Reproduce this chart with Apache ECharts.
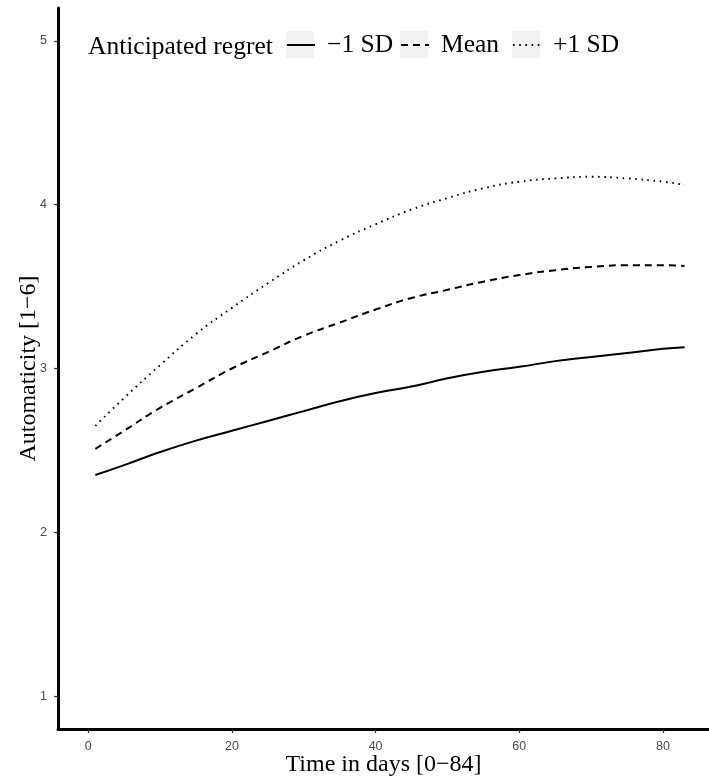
<!DOCTYPE html>
<html>
<head>
<meta charset="utf-8">
<script src="https://cdn.jsdelivr.net/npm/echarts@6/dist/echarts.min.js"></script>
<style>
html, body { margin: 0; padding: 0; background: #fff; }
#chart { width: 709px; height: 778px; }
</style>
</head>
<body>
<div id="chart"></div>
<script>
const days = [1, 5, 10, 15, 20, 25, 30, 35, 40, 45, 50, 55, 60, 65, 70, 75, 80, 83];
const lowRegret = [2.35, 2.41, 2.49, 2.56, 2.62, 2.68, 2.74, 2.80, 2.85, 2.89, 2.94, 2.98, 3.01, 3.045, 3.07, 3.095, 3.12, 3.13];
const meanRegret = [2.51, 2.62, 2.76, 2.88, 3.00, 3.10, 3.20, 3.28, 3.36, 3.43, 3.48, 3.53, 3.57, 3.60, 3.62, 3.63, 3.63, 3.625];
const highRegret = [2.65, 2.82, 3.02, 3.21, 3.37, 3.52, 3.66, 3.78, 3.88, 3.97, 4.04, 4.10, 4.14, 4.16, 4.17, 4.16, 4.14, 4.12];
const seriesNames = ["\u22121 SD", "Mean", "+1 SD"];
const xTicks = [0, 20, 40, 60, 80];
const yTicks = [1, 2, 3, 4, 5];

function pairs(vals) {
  return days.map((d, i) => [d, vals[i]]);
}

const chart = echarts.init(document.getElementById("chart"));

const serif = "Liberation Serif";
const sans = "Liberation Sans";

const axisCommon = {
  type: "value",
  nameLocation: "middle",
  nameMoveOverlap: false,
  nameTextStyle: { fontFamily: serif, fontSize: 24, color: "#000" },
  axisLine: { show: true, onZero: false, lineStyle: { color: "#000", width: 3 } },
  axisTick: { show: true, length: 4, lineStyle: { color: "#333", width: 1.2 } },
  axisLabel: { fontFamily: sans, fontSize: 12.5, color: "#4d4d4d" },
  splitLine: { show: false }
};

const lineCommon = {
  type: "line",
  symbol: "none",
  smooth: true,
  silent: true,
  color: "#000"
};

// one legend block per key so each sits where the reference puts it
const keyLefts = [286, 400, 512];
const legends = seriesNames.map((n, i) => ({
  data: [n],
  left: keyLefts[i],
  top: 32,
  padding: 0,
  itemWidth: 28,
  itemHeight: 26,
  itemStyle: { opacity: 0 },
  textStyle: { fontFamily: serif, fontSize: 25.5, color: "#000", padding: [6, 0, 0, 7] }
}));

chart.setOption({
  animation: false,
  grid: { left: 58, right: 0, top: 8, bottom: 49, outerBoundsMode: "none" },
  title: {
    text: "Anticipated regret",
    left: 83,
    top: 29,
    textStyle: { fontFamily: serif, fontSize: 25.5, fontWeight: "normal", color: "#000" }
  },
  legend: legends,
  graphic: keyLefts.map(x => ({
    type: "rect", left: x, top: 31, shape: { width: 28, height: 27 }, style: { fill: "#f2f2f2" }, z: -1
  })),
  xAxis: Object.assign({}, axisCommon, {
    name: "Time in days [0\u221284]",
    nameGap: 24,
    min: -4.2,
    max: 86.4,
    axisTick: Object.assign({}, axisCommon.axisTick, { customValues: xTicks }),
    axisLabel: Object.assign({}, axisCommon.axisLabel, { customValues: xTicks, margin: 11 })
  }),
  yAxis: Object.assign({}, axisCommon, {
    name: "Automaticity [1\u22126]",
    nameGap: 17,
    min: 0.8,
    max: 5.2,
    axisTick: Object.assign({}, axisCommon.axisTick, { customValues: yTicks }),
    axisLabel: Object.assign({}, axisCommon.axisLabel, { customValues: yTicks, margin: 11 })
  }),
  series: [
    Object.assign({}, lineCommon, {
      name: seriesNames[0],
      data: pairs(lowRegret),
      lineStyle: { color: "#000", width: 2, type: "solid" }
    }),
    Object.assign({}, lineCommon, {
      name: seriesNames[1],
      data: pairs(meanRegret),
      lineStyle: { color: "#000", width: 2, type: [7, 5] }
    }),
    Object.assign({}, lineCommon, {
      name: seriesNames[2],
      data: pairs(highRegret),
      lineStyle: { color: "#000", width: 1.9, type: [1.6, 4.6] }
    })
  ]
});
</script>
</body>
</html>
